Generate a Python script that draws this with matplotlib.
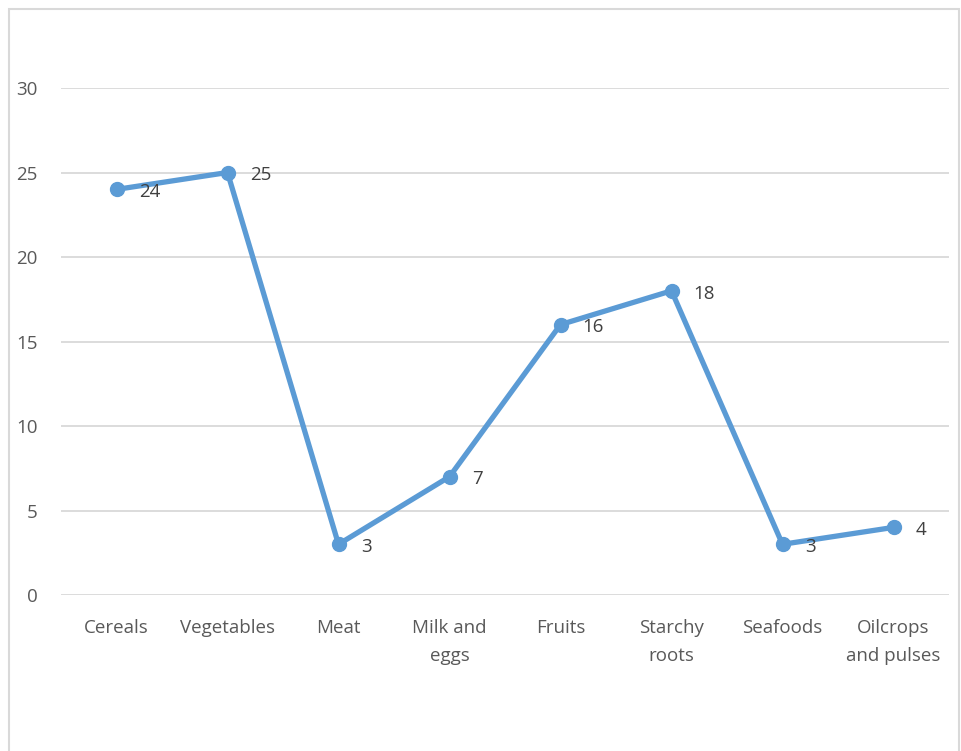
import matplotlib.pyplot as plt
from matplotlib.patches import Rectangle

categories = ['Cereals', 'Vegetables', 'Meat', 'Milk and\neggs', 'Fruits',
              'Starchy\nroots', 'Seafoods', 'Oilcrops\nand pulses']
values = [24, 25, 3, 7, 16, 18, 3, 4]
yticks = [0, 5, 10, 15, 20, 25, 30]

plt.rcParams['font.family'] = ['Open Sans', 'DejaVu Sans']

fig = plt.figure(figsize=(9.61, 7.51), dpi=100)
# outer chart border
fig.patches.append(Rectangle((9/961, -0.1), 950/961, 1.1 - 9/751, transform=fig.transFigure,
                             fill=False, edgecolor='#D9D9D9', linewidth=1.5))
ax = fig.add_axes([61/961, 1-595/751, 888/961, (595-88)/751])

x = range(len(categories))
ax.plot(x, values, color='#5B9BD5', linewidth=3.8, marker='o', markersize=10,
        solid_capstyle='round', zorder=3)
for xi, v in zip(x, values):
    ax.annotate(str(v), (xi, v), xytext=(16, -2), textcoords='offset points',
                va='center', ha='left', fontsize=13.5, color='#404040')

ax.set_xlim(-0.5, len(categories)-0.5)
ax.set_ylim(0, 30)
ax.set_yticks(yticks)
ax.set_xticks(list(x))
ax.set_xticklabels(categories, linespacing=1.75)
ax.tick_params(axis='both', length=0, labelsize=13.5, colors='#595959')
ax.tick_params(axis='y', pad=17)
ax.tick_params(axis='x', pad=17)
ax.grid(axis='y', color='#D9D9D9', linewidth=1.3)
ax.set_axisbelow(True)
for s in ax.spines.values():
    s.set_visible(False)

fig.savefig('out.png', dpi=100)
